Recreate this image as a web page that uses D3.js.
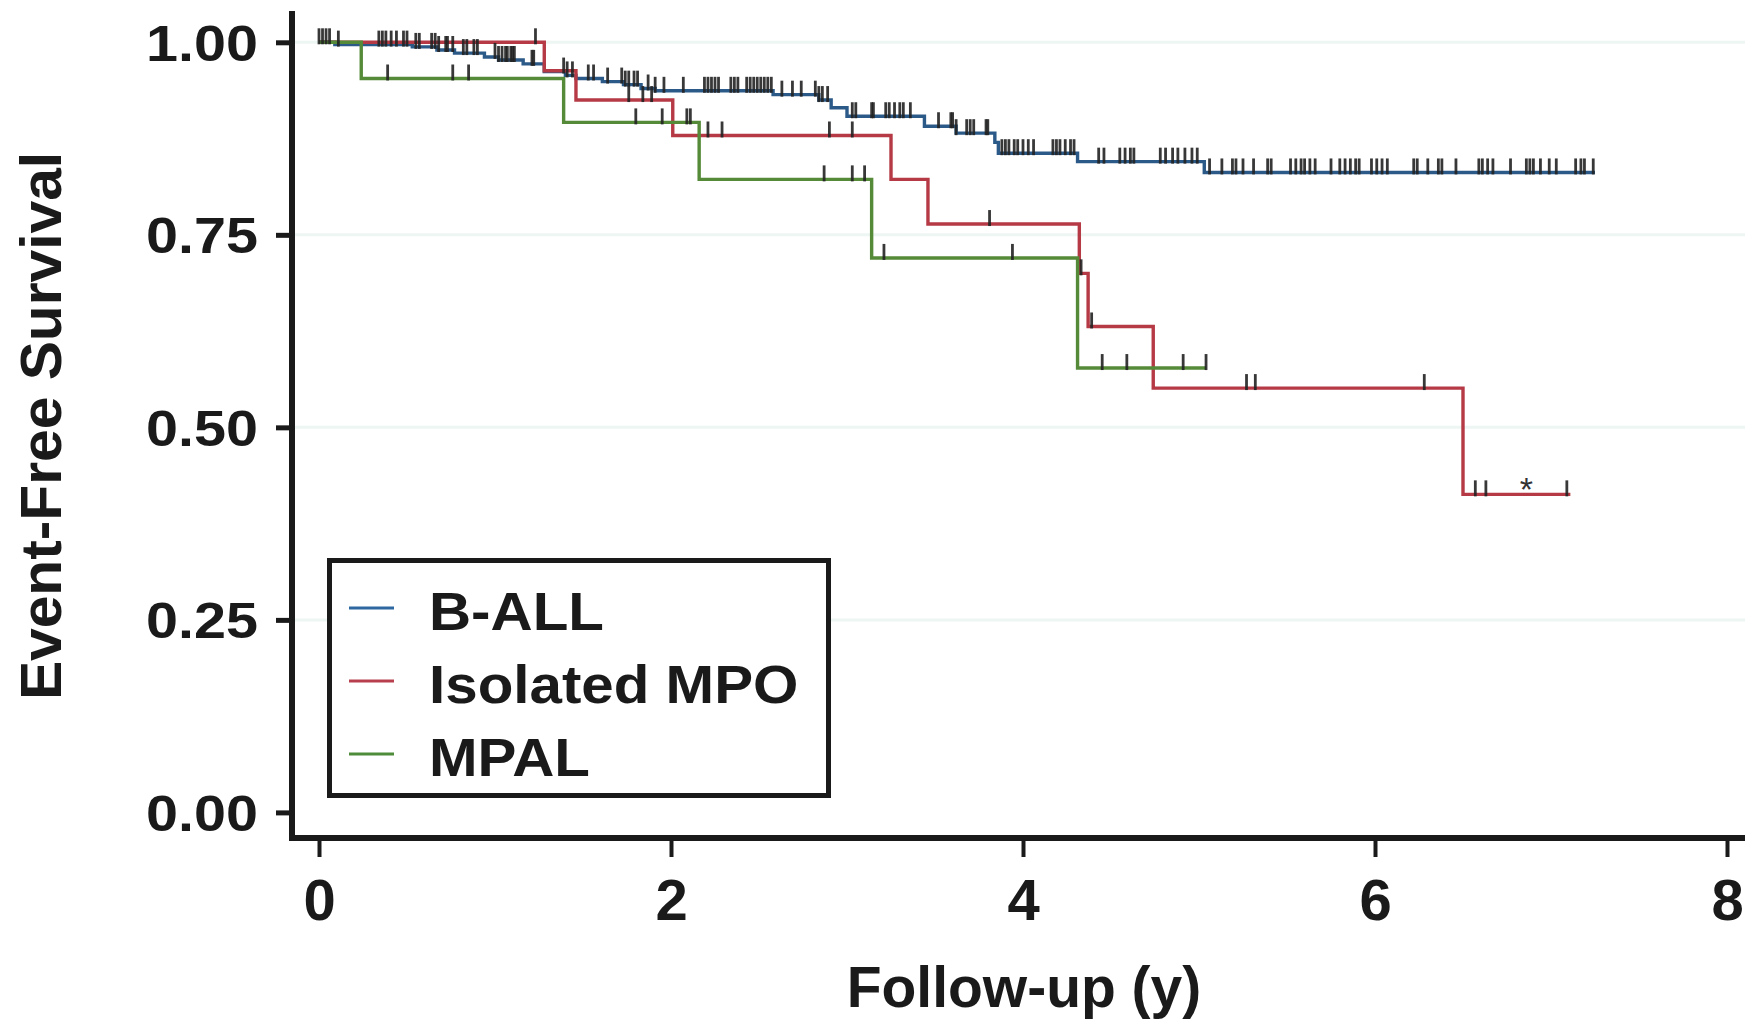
<!DOCTYPE html>
<html>
<head>
<meta charset="utf-8">
<script src="https://cdn.jsdelivr.net/npm/d3@7"></script>
<style>
  html, body { margin: 0; padding: 0; background: #ffffff; }
  svg { display: block; }
  text { font-family: "Liberation Sans", Arial, Helvetica, sans-serif; font-weight: bold; fill: #1a1a1a; }
</style>
</head>
<body>
<svg id="chart" width="1745" height="1020"></svg>
<script>
// ---------------- DATA ----------------
const groups = ["B-ALL", "Isolated MPO", "MPAL"];

const xTicks = [0, 2, 4, 6, 8];
const yTicks = [0, 0.25, 0.5, 0.75, 1];
const yTickLabels = ["0.00", "0.25", "0.50", "0.75", "1.00"];
const gridValues = [0.25, 0.5, 0.75, 1];

// B-ALL: step times and survival after each step (last = end of follow-up)
const ballTimes = [0, 0.09, 0.53, 0.67, 0.77, 0.94, 1.02, 1.16, 1.28, 1.40, 1.46, 1.61, 1.73, 1.83, 1.91, 2.58, 2.84, 2.91, 3.00, 3.44, 3.62, 3.84, 3.86, 4.31, 5.03, 7.25];
const ballSurv  = [1, 0.997, 0.994, 0.990, 0.986, 0.981, 0.977, 0.972, 0.962, 0.957, 0.953, 0.949, 0.945, 0.940, 0.937, 0.932, 0.925, 0.915, 0.904, 0.891, 0.882, 0.870, 0.856, 0.845, 0.831, 0.831];
const ballCensor = [0.0, 0.02, 0.04, 0.06, 0.11, 0.34, 0.36, 0.38, 0.41, 0.44, 0.48, 0.50, 0.55, 0.57, 0.64, 0.66, 0.68, 0.72, 0.73, 0.76, 0.82, 0.84, 0.88, 0.90,
  1.00, 1.02, 1.04, 1.06, 1.07, 1.09, 1.10, 1.11, 1.21, 1.22, 1.39, 1.41, 1.44, 1.53, 1.56, 1.64, 1.72, 1.74, 1.76, 1.79, 1.81, 1.87, 1.91, 1.96,
  2.07, 2.19, 2.21, 2.23, 2.25, 2.27, 2.34, 2.36, 2.38, 2.43, 2.45, 2.47, 2.49, 2.51, 2.53, 2.55, 2.57, 2.63, 2.69, 2.74, 2.82, 2.84, 2.86, 2.89,
  3.03, 3.05, 3.14, 3.15, 3.22, 3.24, 3.27, 3.30, 3.32, 3.36, 3.52, 3.59, 3.60, 3.62, 3.68, 3.70, 3.72, 3.79, 3.80, 3.88, 3.90, 3.92, 3.95, 3.97,
  4.00, 4.03, 4.06, 4.17, 4.19, 4.21, 4.24, 4.27, 4.29, 4.43, 4.46, 4.55, 4.58, 4.61, 4.63, 4.78, 4.81, 4.85, 4.88, 4.92, 4.96, 4.99,
  5.06, 5.13, 5.19, 5.21, 5.25, 5.31, 5.39, 5.41, 5.52, 5.55, 5.58, 5.60, 5.63, 5.66, 5.75, 5.80, 5.83, 5.86, 5.89, 5.91, 5.98,
  6.01, 6.04, 6.07, 6.22, 6.24, 6.30, 6.36, 6.38, 6.46, 6.59, 6.61, 6.64, 6.67, 6.77, 6.86, 6.88, 6.90, 6.94, 6.99,
  7.03, 7.14, 7.17, 7.19, 7.24];

// Isolated MPO
const mpoTimes = [0, 1.28, 1.46, 2.01, 3.25, 3.46, 4.32, 4.37, 4.74, 6.50, 7.11];
const mpoSurv  = [1, 0.963, 0.925, 0.879, 0.822, 0.764, 0.700, 0.631, 0.551, 0.413, 0.413];
const mpoCensor = [1.23, 1.76, 1.84, 1.89, 2.21, 2.29, 2.90, 3.03, 3.81, 4.33, 4.39, 5.27, 5.32, 6.28, 6.57, 6.63, 7.09];

// MPAL
const mpalTimes = [0, 0.24, 1.39, 2.16, 3.14, 4.31, 5.04];
const mpalSurv  = [1, 0.953, 0.896, 0.822, 0.720, 0.577, 0.577];
const mpalCensor = [0.39, 0.76, 0.85, 1.80, 1.95, 2.09, 2.11, 2.87, 3.03, 3.10, 3.21, 3.94, 4.45, 4.59, 4.91, 5.04];

// annotation
const noteLabel = ["*"];
const noteTime = [6.86];
const noteSurv = [0.425];

const xTitle = "Follow-up (y)";
const yTitle = "Event-Free Survival";

// ---------------- STYLE / LAYOUT ----------------
const colors = { "B-ALL": "#2c5a88", "Isolated MPO": "#b53a46", "MPAL": "#558a38" };
const legendColors = { "B-ALL": "#2f68a0", "Isolated MPO": "#b8404e", "MPAL": "#4f8c3a" };

const series = [
  { name: groups[0], times: ballTimes, surv: ballSurv, censor: ballCensor },
  { name: groups[1], times: mpoTimes, surv: mpoSurv, censor: mpoCensor },
  { name: groups[2], times: mpalTimes, surv: mpalSurv, censor: mpalCensor }
];

const svg = d3.select("#chart");
const x = d3.scaleLinear().domain([0, 8]).range([319, 1727]);
const y = d3.scaleLinear().domain([0, 1]).range([812.4, 42.3]);

// grid
svg.append("g").selectAll("line").data(gridValues).join("line")
  .attr("x1", 295).attr("x2", 1745)
  .attr("y1", d => y(d)).attr("y2", d => y(d))
  .attr("stroke", "#edf6f2").attr("stroke-width", 3);

// curves
const line = d3.line().x(d => x(d[0])).y(d => y(d[1])).curve(d3.curveStepAfter);
series.forEach(s => {
  const pts = s.times.map((t, i) => [t, s.surv[i]]);
  svg.append("path").datum(pts)
    .attr("d", line)
    .attr("fill", "none")
    .attr("stroke", colors[s.name])
    .attr("stroke-width", 3.4);
});

// censor ticks
function survAt(s, t) {
  let v = s.surv[0];
  for (let i = 0; i < s.times.length; i++) { if (s.times[i] <= t) v = s.surv[i]; }
  return v;
}
series.forEach(s => {
  svg.append("g").selectAll("line").data(s.censor).join("line")
    .attr("x1", d => x(d)).attr("x2", d => x(d))
    .attr("y1", d => y(survAt(s, d)) - 14)
    .attr("y2", d => y(survAt(s, d)) + 2)
    .attr("stroke", "#222").attr("stroke-opacity", 0.9)
    .attr("stroke-width", 2.8);
});

// annotation asterisk
svg.append("g").selectAll("text").data(noteLabel).join("text")
  .attr("x", (d, i) => x(noteTime[i]))
  .attr("y", (d, i) => y(noteSurv[i]) + 16)
  .attr("text-anchor", "middle")
  .style("font-size", "34px").style("font-weight", "normal").style("fill", "#333")
  .text(d => d);

// axes
const yAxis = d3.axisLeft(y).tickValues(yTicks).tickFormat((d, i) => yTickLabels[i]).tickSize(16).tickPadding(18);
const gy = svg.append("g").attr("transform", "translate(292,0)").call(yAxis);
gy.select(".domain").remove();
gy.selectAll(".tick line").attr("stroke", "#1a1a1a").attr("stroke-width", 5);
gy.selectAll(".tick text").style("font-size", "50px").attr("dy", "0.36em")
  .each(function () { const w = this.getComputedTextLength(); d3.select(this).attr("textLength", w * 1.15).attr("lengthAdjust", "spacingAndGlyphs"); });

const xAxis = d3.axisBottom(x).tickValues(xTicks).tickFormat(d3.format("d")).tickSize(19).tickPadding(22);
const gx = svg.append("g").attr("transform", "translate(0,838)").call(xAxis);
gx.select(".domain").remove();
gx.selectAll(".tick line").attr("stroke", "#1a1a1a").attr("stroke-width", 4);
gx.selectAll(".tick text").style("font-size", "58px").attr("dy", "0.71em");

// axis lines
svg.append("line").attr("x1", 292).attr("x2", 292).attr("y1", 11).attr("y2", 841)
  .attr("stroke", "#1a1a1a").attr("stroke-width", 6);
svg.append("line").attr("x1", 289).attr("x2", 1745).attr("y1", 838).attr("y2", 838)
  .attr("stroke", "#1a1a1a").attr("stroke-width", 6);

// axis titles
svg.append("text").attr("x", 1024).attr("y", 1007).attr("text-anchor", "middle")
  .style("font-size", "57px").text(xTitle);
svg.append("text").attr("transform", "translate(61,426) rotate(-90)").attr("text-anchor", "middle")
  .style("font-size", "57px").text(yTitle)
  .each(function () { const w = this.getComputedTextLength(); d3.select(this).attr("textLength", w * 1.03).attr("lengthAdjust", "spacingAndGlyphs"); });

// legend
const lg = svg.append("g");
lg.append("rect").attr("x", 329.5).attr("y", 560.5).attr("width", 499).attr("height", 235)
  .attr("fill", "#ffffff").attr("stroke", "#1a1a1a").attr("stroke-width", 5);
const legendY = d3.scalePoint().domain(groups).range([608, 754]);
lg.selectAll("line.key").data(groups).join("line").attr("class", "key")
  .attr("x1", 349).attr("x2", 394)
  .attr("y1", d => legendY(d)).attr("y2", d => legendY(d))
  .attr("stroke", d => legendColors[d]).attr("stroke-width", 3);
lg.selectAll("text.lab").data(groups).join("text").attr("class", "lab")
  .attr("x", 429).attr("y", d => legendY(d) + 22)
  .style("font-size", "54px")
  .text(d => d)
  .each(function () { const w = this.getComputedTextLength(); d3.select(this).attr("textLength", w * 1.08).attr("lengthAdjust", "spacingAndGlyphs"); });
</script>
</body>
</html>
